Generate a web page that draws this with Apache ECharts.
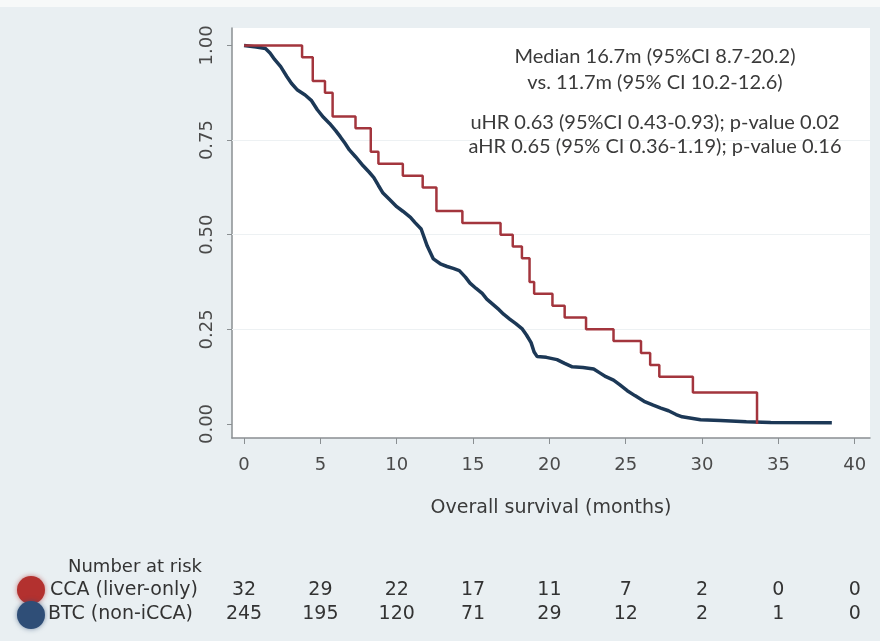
<!DOCTYPE html>
<html>
<head>
<meta charset="utf-8">
<script src="https://cdn.jsdelivr.net/npm/echarts@6/dist/echarts.min.js"></script>
<style>
  html, body { margin: 0; padding: 0; background: #e9eff2; }
  #chart { width: 880px; height: 641px; }
</style>
</head>
<body>
<div id="chart"></div>
<script>
// tick labels
const xTicks = [0, 5, 10, 15, 20, 25, 30, 35, 40];
const yTicks = [0, 0.25, 0.5, 0.75, 1];
const yGrid = [0.25, 0.5, 0.75];

// Kaplan-Meier curves (month, survival)
const iccaTime = [0, 3.8, 4.5, 5.3, 5.8, 7.3, 8.3, 8.8, 10.4, 11.7, 12.6, 14.3, 16.8, 17.6, 18.2, 18.7, 19.0, 20.2, 21.0, 22.4, 24.2, 26.0, 26.6, 27.2, 29.4, 33.6];
const iccaSurv = [1, 0.969, 0.906, 0.875, 0.8125, 0.781, 0.719, 0.6875, 0.656, 0.625, 0.5625, 0.531, 0.5, 0.469, 0.4375, 0.375, 0.344, 0.3125, 0.281, 0.25, 0.219, 0.1875, 0.156, 0.125, 0.083, 0];

const btcTime = [0, 0.8, 1.4, 1.7, 2.0, 2.4, 2.8, 3.1, 3.5, 4.0, 4.4, 4.8, 5.2, 5.6, 6.0, 6.3, 6.6, 6.9, 7.3, 7.8, 8.2, 8.5, 8.8, 9.1, 9.5, 10.0, 10.4, 10.9, 11.2, 11.6, 12.0, 12.4, 12.9, 13.3, 13.7, 14.1, 14.5, 14.8, 15.2, 15.6, 15.9, 16.3, 16.7, 17.0, 17.4, 17.8, 18.2, 18.5, 18.8, 19.0, 19.2, 19.8, 20.5, 21.0, 21.5, 22.2, 22.9, 23.3, 23.7, 24.2, 24.6, 25.1, 25.6, 26.2, 26.8, 27.3, 27.8, 28.3, 28.7, 29.3, 29.9, 31.2, 32.9, 34.5, 38.5];
const btcSurv = [1, 0.996, 0.992, 0.98, 0.963, 0.944, 0.918, 0.9, 0.882, 0.869, 0.855, 0.83, 0.81, 0.794, 0.775, 0.759, 0.742, 0.724, 0.706, 0.682, 0.665, 0.651, 0.63, 0.61, 0.594, 0.574, 0.562, 0.546, 0.532, 0.515, 0.47, 0.436, 0.422, 0.416, 0.411, 0.405, 0.388, 0.372, 0.358, 0.345, 0.33, 0.316, 0.302, 0.29, 0.277, 0.265, 0.252, 0.235, 0.215, 0.19, 0.178, 0.176, 0.17, 0.16, 0.151, 0.149, 0.145, 0.135, 0.125, 0.116, 0.104, 0.088, 0.075, 0.06, 0.05, 0.042, 0.035, 0.025, 0.019, 0.015, 0.011, 0.009, 0.006, 0.004, 0.003];

// number at risk table
const riskTimes = [0, 5, 10, 15, 20, 25, 30, 35, 40];
const iccaRisk = [32, 29, 22, 17, 11, 7, 2, 0, 0];
const btcRisk = [245, 195, 120, 71, 29, 12, 2, 1, 0];

const annotation = [
  "Median 16.7m (95%CI 8.7-20.2)",
  "vs. 11.7m (95% CI 10.2-12.6)",
  "uHR 0.63 (95%CI 0.43-0.93); p-value 0.02",
  "aHR 0.65 (95% CI 0.36-1.19); p-value 0.16"
];

const RED = "#a3353d";
const BLUE = "#1c3856";
const AXIS_FONT = "DejaVu Sans";
const zip = (xs, ys) => xs.map((x, i) => [x, ys[i]]);

const chart = echarts.init(document.getElementById("chart"));
chart.setOption({
  animation: false,
  backgroundColor: "#e9eff2",
  grid: { left: 232, right: 10, top: 28, bottom: 203, show: true, backgroundColor: "#ffffff", borderWidth: 0, outerBoundsMode: "none" },
  xAxis: {
    type: "value", min: -0.79, max: 41.0,
    name: "Overall survival (months)", nameLocation: "middle", nameGap: 61,
    nameTextStyle: { fontFamily: AXIS_FONT, fontSize: 19, color: "#3a3a3a" },
    axisLine: { onZero: false, lineStyle: { color: "#8a8f92", width: 1.5 } },
    axisTick: { customValues: xTicks, length: 6, lineStyle: { color: "#8a8f92" } },
    axisLabel: { customValues: xTicks, margin: 18, fontFamily: AXIS_FONT, fontSize: 18, color: "#4a4a4a" },
    splitLine: { show: false }
  },
  yAxis: {
    type: "value", min: -0.037, max: 1.046,
    axisLine: { show: true, onZero: false, lineStyle: { color: "#8a8f92", width: 1.5 } },
    axisTick: { show: true, customValues: yTicks, length: 5, lineStyle: { color: "#8a8f92" } },
    axisLabel: { customValues: yTicks, rotate: 90, margin: 16, fontFamily: AXIS_FONT, fontSize: 18, color: "#4a4a4a",
      formatter: v => v.toFixed(2) },
    splitLine: { show: false }
  },
  series: [
    {
      // faint horizontal grid lines, kept under the curves
      type: "line", data: [], z: 1,
      markLine: {
        silent: true, symbol: "none", z: 1, label: { show: false },
        lineStyle: { color: "#edf1f3", type: "solid", width: 1 },
        data: yGrid.map(v => ({ yAxis: v }))
      }
    },
    {
      name: "BTC (non-iCCA)", type: "line", showSymbol: false, z: 3,
      data: zip(btcTime, btcSurv),
      lineStyle: { color: BLUE, width: 3.5 }
    },
    {
      name: "iCCA (liver-only)", type: "line", step: "end", showSymbol: false, z: 4,
      data: zip(iccaTime, iccaSurv),
      lineStyle: { color: RED, width: 2.5 }
    }
  ]
});

// annotation and risk table, placed with the chart's own x scale
const font = "20px Lato";
const headFont = "18px 'DejaVu Sans'";
const tableFont = "19px 'DejaVu Sans'";
const rowY = [590, 614];
const graphics = [{ type: "rect", shape: { x: 0, y: 0, width: 880, height: 7 }, style: { fill: "#f7f9f9" } }];
annotation.forEach((t, i) => graphics.push({
  type: "text", x: 655, y: [57, 83, 123, 147][i], z: 100,
  style: { text: t, font: font, fill: "#3a3a3a", align: "center", verticalAlign: "middle" }
}));
graphics.push({ type: "text", x: 68, y: 567, style: { text: "Number at risk", font: headFont, fill: "#333", verticalAlign: "middle" } });
graphics.push({ type: "text", x: 50, y: rowY[0], style: { text: "CCA (liver-only)", font: tableFont, fill: "#333", verticalAlign: "middle" } });
graphics.push({ type: "text", x: 48, y: rowY[1], style: { text: "BTC (non-iCCA)", font: tableFont, fill: "#333", verticalAlign: "middle" } });
graphics.push({ type: "circle", shape: { cx: 31, cy: rowY[0], r: 14 }, style: { fill: "#b3312f", shadowBlur: 5, shadowColor: "rgba(179,49,47,0.6)" }, z: 10 });
graphics.push({ type: "circle", shape: { cx: 31, cy: rowY[1] + 1, r: 14 }, style: { fill: "#2f4e77", shadowBlur: 5, shadowColor: "rgba(47,78,119,0.6)" }, z: 10 });
riskTimes.forEach((t, i) => {
  const px = chart.convertToPixel({ xAxisIndex: 0 }, t);
  graphics.push({ type: "text", x: px, y: rowY[0], style: { text: String(iccaRisk[i]), font: tableFont, fill: "#333", align: "center", verticalAlign: "middle" } });
  graphics.push({ type: "text", x: px, y: rowY[1], style: { text: String(btcRisk[i]), font: tableFont, fill: "#333", align: "center", verticalAlign: "middle" } });
});
chart.setOption({ graphic: graphics });
</script>
</body>
</html>
